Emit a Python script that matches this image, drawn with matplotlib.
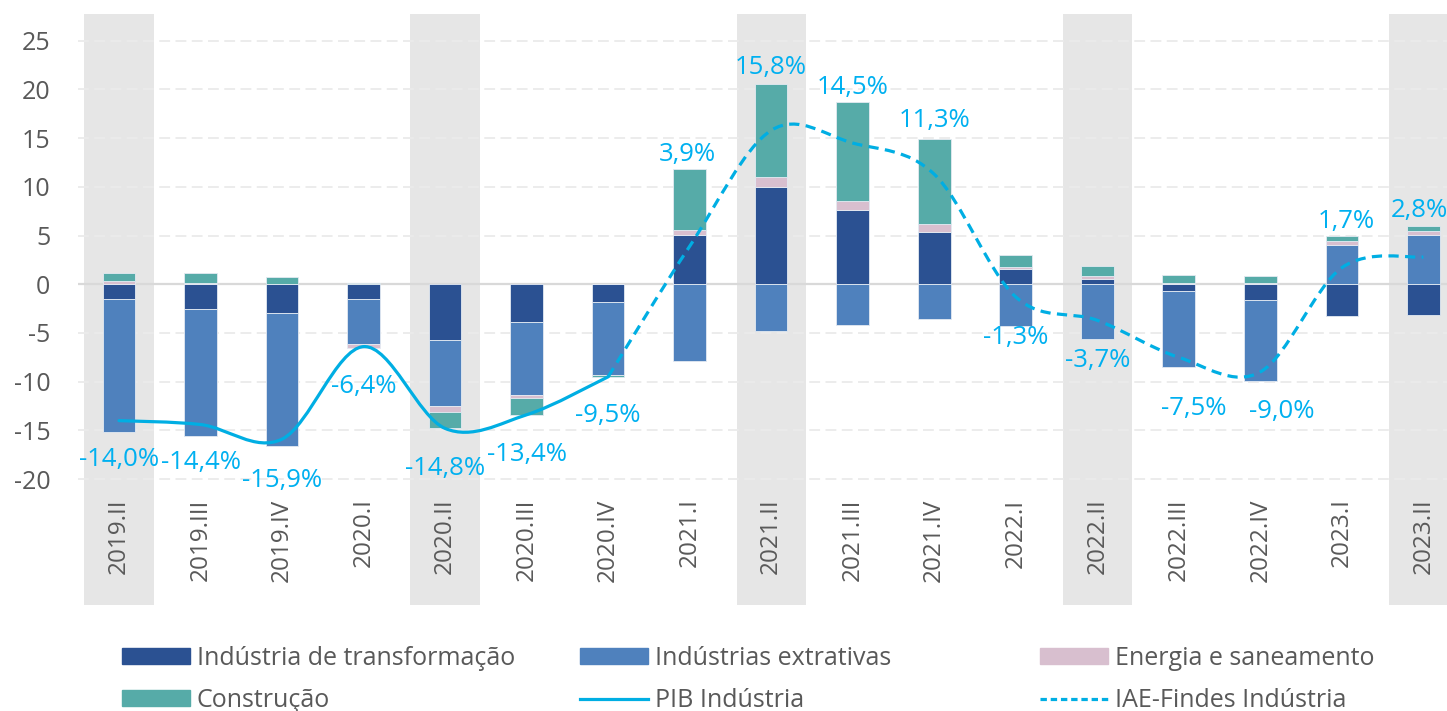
import numpy as np
import matplotlib
matplotlib.use("Agg")
import matplotlib.pyplot as plt
from matplotlib.path import Path
from matplotlib.patches import PathPatch, Patch
from matplotlib.lines import Line2D

plt.rcParams['font.family'] = ['Open Sans', 'DejaVu Sans']

quarters = ['2019.II', '2019.III', '2019.IV', '2020.I', '2020.II', '2020.III', '2020.IV',
            '2021.I', '2021.II', '2021.III', '2021.IV', '2022.I', '2022.II', '2022.III',
            '2022.IV', '2023.I', '2023.II']

transformacao = [-1.5, -2.5, -3.0, -1.5, -5.7, -3.9, -1.8, 5.1, 10.0, 7.6, 5.4, 1.6, 0.5, -0.7, -1.6, -3.3, -3.2]
extrativas = [-13.7, -13.1, -13.6, -4.6, -6.8, -7.5, -7.5, -7.9, -4.8, -4.2, -3.6, -4.3, -5.6, -7.8, -8.3, 4.0, 5.1]
energia = [0.3, 0.1, 0.05, -0.4, -0.6, -0.3, 0.0, 0.5, 1.0, 0.9, 0.8, 0.2, 0.3, 0.1, 0.1, 0.4, 0.4]
construcao = [0.9, 1.1, 0.7, 0.1, -1.7, -1.7, -0.2, 6.2, 9.6, 10.2, 8.7, 1.2, 1.1, 0.9, 0.8, 0.6, 0.5]

# PIB Indústria covers 2019.II-2020.IV, IAE-Findes 2020.IV-2023.II
pib_industria = [-14.0, -14.4, -15.9, -6.4, -14.8, -13.4, -9.5]
iae_findes = [-9.5, 3.9, 15.8, 14.5, 11.3, -1.3, -3.7, -7.5, -9.0, 1.7, 2.8]

highlighted = ['2019.II', '2020.II', '2021.II', '2022.II', '2023.II']

# label offsets in pixels (dx, dy) from the line point
label_offsets = [(0, -39), (0, -38), (0, -41), (0, -40), (0, -40), (0, -40), (0, -39),
                 (-2, 92), (0, 63), (0, 56), (0, 54), (0, -41), (0, -40), (15, -51),
                 (21, -40), (4, 46), (-4, 47)]

c_transf = '#2B5192'
c_extr = '#4F81BD'
c_energ = '#D8BFCF'
c_constr = '#56ABA8'
c_line = '#00AEE3'
c_text = '#00B0F0'
c_axis = '#595959'


def smooth_path(xs, ys):
    # Excel-like smoothed line: cubic bezier (catmull-rom control points)
    pts = np.column_stack([xs, ys]).astype(float)
    ext = np.vstack([pts[0], pts, pts[-1]])
    verts = [pts[0]]
    codes = [Path.MOVETO]
    for i in range(len(pts) - 1):
        p0, p1, p2, p3 = ext[i], ext[i + 1], ext[i + 2], ext[i + 3]
        verts += [p1 + (p2 - p0) / 6, p2 - (p3 - p1) / 6, p2]
        codes += [Path.CURVE4] * 3
    return Path(verts, codes)


fig = plt.figure(figsize=(14.47, 7.11), dpi=100)
ax = fig.add_axes([78 / 1447, 1 - 605 / 711, 1 - 78 / 1447, (605 - 14) / 711])

x = np.arange(len(quarters))
ax.set_xlim(-0.503, 16.29)
ax.set_ylim(-32.93, 27.75)

for q in highlighted:
    i = quarters.index(q)
    ax.axvspan(i - 0.425, i + 0.425, color='#E6E6E6', lw=0, zorder=0)

for v in range(-20, 30, 5):
    if v == 0:
        ax.axhline(0, color='#D9D9D9', lw=1.6, zorder=1)
    else:
        ax.axhline(v, color='#EBEBEB', lw=1.3, ls=(0, (6, 3)), zorder=1)

pos = np.zeros(len(x))
neg = np.zeros(len(x))
for vals, col in [(transformacao, c_transf), (extrativas, c_extr),
                  (energia, c_energ), (construcao, c_constr)]:
    vals = np.array(vals)
    bottoms = np.where(vals >= 0, pos, neg)
    ax.bar(x, vals, 0.4, bottom=bottoms, color=col, edgecolor='#E4EAF2', linewidth=0.6, zorder=2)
    pos = pos + np.where(vals >= 0, vals, 0)
    neg = neg + np.where(vals < 0, vals, 0)

n_pib = len(pib_industria)
pib_x = x[:n_pib]
iae_x = x[n_pib - 1:]
ax.add_patch(PathPatch(smooth_path(pib_x, pib_industria), fill=False, edgecolor=c_line,
                       lw=2.3, zorder=3, capstyle='round'))
ax.add_patch(PathPatch(smooth_path(iae_x, iae_findes), fill=False, edgecolor=c_line,
                       lw=2.3, ls=(0, (3.2, 2)), zorder=3))

label_vals = pib_industria + iae_findes[1:]
for i, v in enumerate(label_vals):
    dx, dy = label_offsets[i]
    ax.annotate(f"{v:.1f}%".replace('.', ','), (x[i], v), xytext=(dx, dy),
                textcoords='offset pixels', ha='center', va='center',
                color=c_text, fontsize=18.5, zorder=4)

for i, q in enumerate(quarters):
    ax.text(x[i], -22.0, q, rotation=90, ha='center', va='top', color=c_axis, fontsize=17.5)

ax.set_yticks(range(-20, 30, 5))
ax.set_yticklabels([str(v) for v in range(-20, 30, 5)], color=c_axis, fontsize=18)
ax.set_xticks([])
ax.tick_params(axis='y', length=0, pad=20)
for s in ax.spines.values():
    s.set_visible(False)

leg_cols = [
    [(Patch(color=c_transf), 'Indústria de transformação'), (Patch(color=c_constr), 'Construção')],
    [(Patch(color=c_extr), 'Indústrias extrativas'), (Line2D([], [], color=c_line, lw=2.3), 'PIB Indústria')],
    [(Patch(color=c_energ), 'Energia e saneamento'),
     (Line2D([], [], color=c_line, lw=2.3, ls=(0, (2, 1.2))), 'IAE-Findes Indústria')],
]
for cx, items in zip([122, 580, 1040], leg_cols):
    fig.legend([h for h, _ in items], [l for _, l in items], loc='upper left',
               bbox_to_anchor=(cx / 1447, 1 - 646 / 711), frameon=False,
               fontsize=18, handlelength=2.72, handleheight=0.6, handletextpad=0.28,
               labelspacing=0.68, borderpad=0.0, borderaxespad=0.0, labelcolor=c_axis)

fig.savefig('out.png', dpi=100)
